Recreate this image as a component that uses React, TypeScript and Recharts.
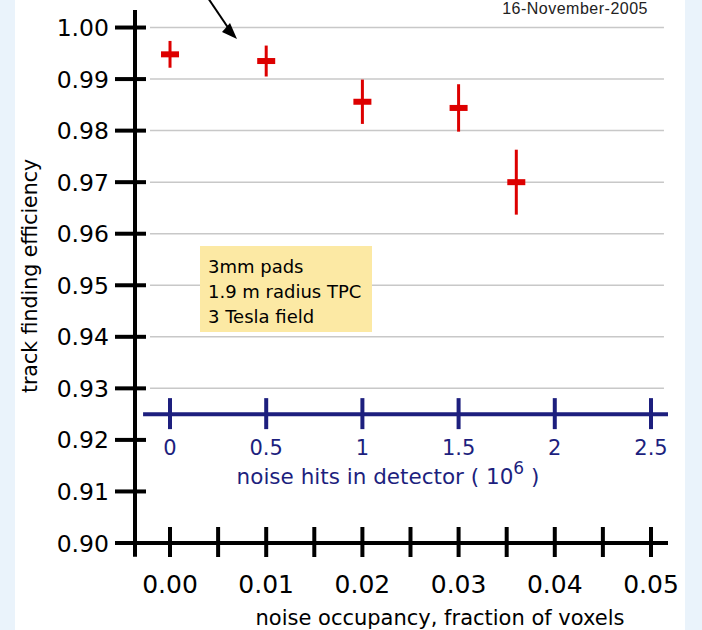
import React from 'react';
import { ComposedChart, Scatter, XAxis, YAxis, ErrorBar, ReferenceLine } from 'recharts';

// measured points: noise occupancy vs track finding efficiency
const OCCUPANCY = [0, 0.01, 0.02, 0.03, 0.036];
const EFFICIENCY = [0.9948, 0.9935, 0.9856, 0.9844, 0.97];
const EFF_ERROR = [0.0026, 0.003, 0.0043, 0.0046, 0.0063];

const OCC_TICKS = [0, 0.005, 0.01, 0.015, 0.02, 0.025, 0.03, 0.035, 0.04, 0.045, 0.05];
const EFF_TICKS = [0.9, 0.91, 0.92, 0.93, 0.94, 0.95, 0.96, 0.97, 0.98, 0.99, 1.0];
const GRID_LINES = [0.93, 0.94, 0.95, 0.96, 0.97, 0.98, 0.99, 1.0];

// secondary scale: noise hits in detector (10^6)
const HITS_TICKS = [0, 0.5, 1, 1.5, 2, 2.5];
const HITS_PER_OCC = 50;
const HITS_AXIS_Y = 0.925;

const X_MIN = -0.00364;
const X_MAX = 0.05177;
const Y_MIN = 0.9;
const Y_MAX = 1.0034;
const Y_AXIS_LOW = 0.89734;
const GRID_X0 = -0.00208;
const GRID_X1 = 0.05135;
const HITS_LINE_X0 = -0.14;

const RED = '#dd0000';
const NAVY = '#1d1f7e';
const FONT = '"DejaVu Sans", Verdana, sans-serif';

const points = OCCUPANCY.map((occ, i) => ({ occ, eff: EFFICIENCY[i], err: EFF_ERROR[i] }));
const hitsTicks = HITS_TICKS.map((h) => ({ h, y: HITS_AXIS_Y }));

function OccTick(props: any) {
    const { x, y, payload } = props;
    const v = payload.value;
    const major = Math.round(v * 1000) % 10 === 0;
    return (
        <g>
            <line x1={x} x2={x} y1={y - 16} y2={y + 14} stroke="#000" strokeWidth={4} />
            {major && (
                <text x={x} y={y + 50} textAnchor="middle" fontSize={25} fontFamily={FONT} fill="#000">
                    {v.toFixed(2)}
                </text>
            )}
        </g>
    );
}

function EffTick(props: any) {
    const { x, y, payload } = props;
    return (
        <g>
            <line x1={x - 20} x2={x + 11} y1={y} y2={y} stroke="#000" strokeWidth={4} />
            <text x={x - 26} y={y + 8.5} textAnchor="end" fontSize={23.5} fontFamily={FONT} fill="#000">
                {payload.value.toFixed(2)}
            </text>
        </g>
    );
}

function Cross(props: any) {
    const { cx, cy } = props;
    return <rect x={cx - 9} y={cy - 3} width={18} height={6} fill={RED} />;
}

function HitsTick(props: any) {
    const { cx, cy, payload } = props;
    return (
        <g>
            <line x1={cx} x2={cx} y1={cy - 16} y2={cy + 15} stroke={NAVY} strokeWidth={4} />
            <text x={cx} y={cy + 41} textAnchor="middle" fontSize={21} fontFamily={FONT} fill={NAVY}>
                {String(payload.h)}
            </text>
        </g>
    );
}

export default function App() {
    return (
        <div style={{ position: 'relative', width: 702, height: 630, background: '#eaf3fb', overflow: 'hidden' }}>
            <style>{'body{margin:0}'}</style>
            <div style={{ position: 'absolute', left: 15, top: 0, width: 670, height: 630, background: '#fff' }} />
            <div style={{ position: 'absolute', left: 0, top: 0 }}>
                <ComposedChart width={702} height={630} margin={{ top: 10, right: 34, left: 0, bottom: 0 }}>
                    <XAxis
                        xAxisId={0}
                        type="number"
                        dataKey="occ"
                        domain={[X_MIN, X_MAX]}
                        ticks={OCC_TICKS}
                        tick={OccTick}
                        tickLine={false}
                        tickSize={0}
                        tickMargin={0}
                        height={87}
                        axisLine={{ stroke: '#000', strokeWidth: 4 }}
                        allowDataOverflow
                        interval={0}
                    />
                    <XAxis
                        xAxisId="hits"
                        type="number"
                        dataKey="h"
                        domain={[X_MIN * HITS_PER_OCC, X_MAX * HITS_PER_OCC]}
                        allowDataOverflow
                        hide
                    />
                    <YAxis
                        type="number"
                        domain={[Y_MIN, Y_MAX]}
                        ticks={EFF_TICKS}
                        tick={EffTick}
                        tickLine={false}
                        tickSize={0}
                        tickMargin={0}
                        width={135}
                        axisLine={false}
                        allowDataOverflow
                        interval={0}
                    />
                    {GRID_LINES.map((g) => (
                        <ReferenceLine
                            key={g}
                            segment={[{ x: GRID_X0, y: g }, { x: GRID_X1, y: g }]}
                            stroke="#c8c8c8"
                            strokeWidth={1.5}
                            ifOverflow="visible"
                        />
                    ))}
                    <ReferenceLine
                        segment={[{ x: X_MIN, y: Y_AXIS_LOW }, { x: X_MIN, y: Y_MAX }]}
                        stroke="#000"
                        strokeWidth={4}
                        ifOverflow="visible"
                    />
                    <ReferenceLine
                        xAxisId="hits"
                        segment={[{ x: HITS_LINE_X0, y: HITS_AXIS_Y }, { x: X_MAX * HITS_PER_OCC, y: HITS_AXIS_Y }]}
                        stroke={NAVY}
                        strokeWidth={4}
                        ifOverflow="visible"
                    />
                    <Scatter xAxisId="hits" data={hitsTicks} dataKey="y" shape={HitsTick} isAnimationActive={false} />
                    <Scatter data={points} dataKey="eff" shape={Cross} fill={RED} isAnimationActive={false}>
                        <ErrorBar dataKey="err" direction="y" width={0} stroke={RED} strokeWidth={3} isAnimationActive={false} />
                    </Scatter>
                </ComposedChart>
            </div>
            <svg width={702} height={630} style={{ position: 'absolute', left: 0, top: 0, pointerEvents: 'none' }}>
                <text
                    x={648}
                    y={14}
                    textAnchor="end"
                    fontSize={16}
                    letterSpacing={0.5}
                    fontFamily='"Liberation Sans", Arial, sans-serif'
                    fill="#222"
                >
                    16-November-2005
                </text>
                <line x1={208} y1={-2} x2={231} y2={32} stroke="#000" strokeWidth={2} />
                <polygon points="237,39 222,32 230,23" fill="#000" />
                <text transform="translate(37,276) rotate(-90)" textAnchor="middle" fontSize={20.5} fontFamily={FONT} fill="#000">
                    track finding efficiency
                </text>
                <text x={440} y={625} textAnchor="middle" fontSize={21} fontFamily={FONT} fill="#000">
                    noise occupancy, fraction of voxels
                </text>
                <text x={388} y={484} textAnchor="middle" fontSize={21.5} fontFamily={FONT} fill={NAVY}>
                    noise hits in detector ( 10<tspan dy={-10} fontSize={17}>6</tspan><tspan dy={10}> )</tspan>
                </text>
            </svg>
            <div
                style={{
                    position: 'absolute',
                    left: 200,
                    top: 246,
                    width: 164,
                    height: 78,
                    padding: '8px 0 0 8px',
                    background: '#fce9a4',
                    fontFamily: FONT,
                    fontSize: 18,
                    lineHeight: '25px',
                    color: '#000',
                    whiteSpace: 'nowrap',
                }}
            >
                <div>3mm pads</div>
                <div>1.9 m radius TPC</div>
                <div>3 Tesla field</div>
            </div>
        </div>
    );
}
